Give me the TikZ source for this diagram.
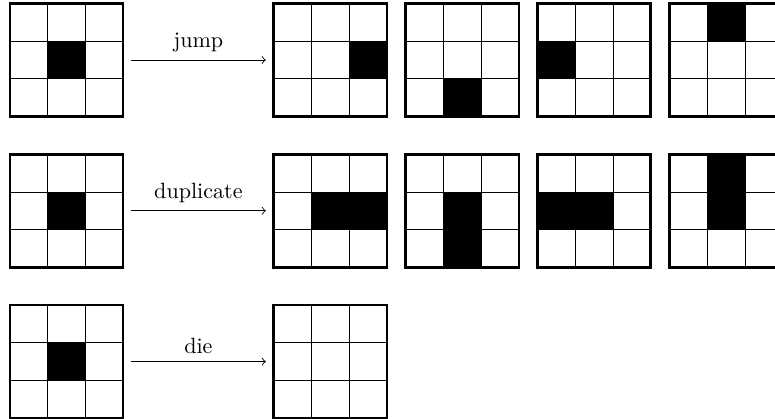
\documentclass[tikz,border=0pt]{standalone}

\tikzset{
  board/.style={draw, line width=1.2pt, minimum size=1.8cm, inner sep=0pt},
  cellline/.style={line width=0.4pt},
  rule/.style={->, shorten >=3pt, shorten <=3pt}
}

% 3x3 board: name, center, filled cells as column/row (row 0 on top)
\newcommand{\board}[3]{%
  \begin{scope}[shift={(#2)}]
    \foreach \c/\r in {#3}
      \fill (\c*0.6-0.9, 0.3-\r*0.6) rectangle ++(0.6,0.6);
    \draw[cellline] (-0.3,-0.9) -- (-0.3,0.9) (0.3,-0.9) -- (0.3,0.9)
      (-0.9,-0.3) -- (0.9,-0.3) (-0.9,0.3) -- (0.9,0.3);
  \end{scope}
  \node[board] (#1) at (#2) {};
}

\begin{document}
\begin{tikzpicture}
    \useasboundingbox (-1.058,0.955) rectangle (11.277,-5.698);

    % jump
    \board{j0}{0,0}{1/1}
    \board{j1}{4.2,0}{2/1}
    \board{j2}{6.3,0}{1/2}
    \board{j3}{8.4,0}{0/1}
    \board{j4}{10.5,0}{1/0}
    \draw[rule] (j0) -- (j1) node[midway, above] {jump};

    % duplicate
    \board{d0}{0,-2.4}{1/1}
    \board{d1}{4.2,-2.4}{1/1, 2/1}
    \board{d2}{6.3,-2.4}{1/1, 1/2}
    \board{d3}{8.4,-2.4}{0/1, 1/1}
    \board{d4}{10.5,-2.4}{1/0, 1/1}
    \draw[rule] (d0) -- (d1) node[midway, above] {duplicate};

    % die
    \board{k0}{0,-4.8}{1/1}
    \board{k1}{4.2,-4.8}{}
    \draw[rule] (k0) -- (k1) node[midway, above] {die};
\end{tikzpicture}
\end{document}
